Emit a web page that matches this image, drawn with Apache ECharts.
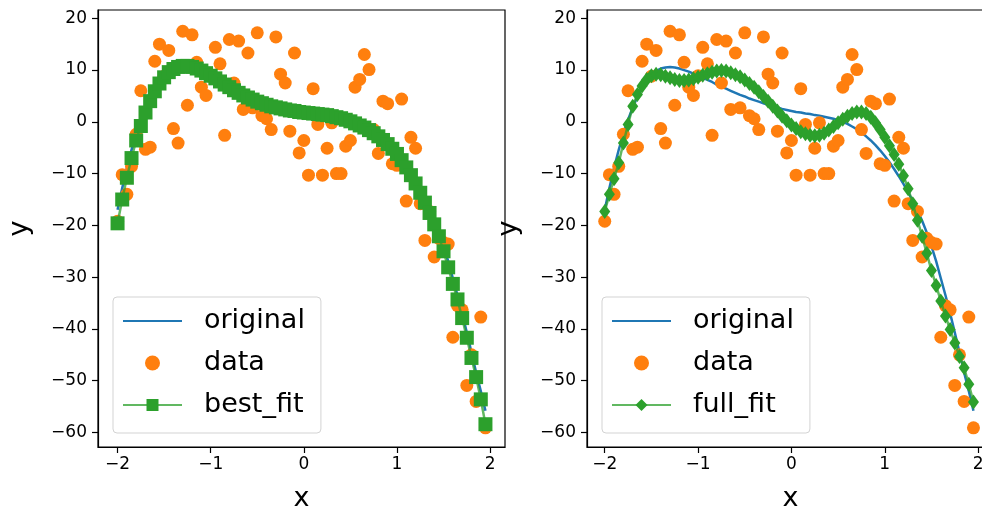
<!DOCTYPE html>
<html>
<head>
<meta charset="utf-8">
<script src="https://cdn.jsdelivr.net/npm/echarts@6/dist/echarts.min.js"></script>
<style>
html,body{margin:0;padding:0;background:#fff;}
#c{width:982px;height:513px;}
</style>
</head>
<body>
<div id="c"></div>
<script>
// x positions of the samples
const xValues = [-2.00,-1.95,-1.90,-1.85,-1.80,-1.75,-1.70,-1.65,-1.60,-1.55,-1.50,-1.45,-1.40,-1.35,-1.30,-1.25,-1.20,-1.15,-1.10,-1.05,
  -1.00,-0.95,-0.90,-0.85,-0.80,-0.75,-0.70,-0.65,-0.60,-0.55,-0.50,-0.45,-0.40,-0.35,-0.30,-0.25,-0.20,-0.15,-0.10,-0.05,
  0.00,0.05,0.10,0.15,0.20,0.25,0.30,0.35,0.40,0.45,0.50,0.55,0.60,0.65,0.70,0.75,0.80,0.85,0.90,0.95,
  1.00,1.05,1.10,1.15,1.20,1.25,1.30,1.35,1.40,1.45,1.50,1.55,1.60,1.65,1.70,1.75,1.80,1.85,1.90,1.95];

// noisy observations
const dataY = [-19.2,-10.2,-14.0,-8.6,-2.4,6.0,-5.3,-4.9,11.7,15.0,8.8,13.8,-1.3,-4.1,17.5,3.2,16.8,11.5,6.7,5.1,
  8.9,14.4,11.2,-2.6,15.9,7.5,15.6,2.4,13.3,2.7,17.2,1.2,0.6,-1.5,16.4,9.2,7.5,-1.8,13.3,-6.0,
  -3.6,-10.3,6.4,-0.5,-10.3,-5.1,-0.2,-10.0,-10.0,-4.7,-3.6,6.7,8.2,13.0,10.1,-1.5,-6.1,4.0,3.5,-8.1,
  -8.4,4.4,-15.3,-3.0,-5.1,-15.8,-22.9,-17.3,-26.1,-22.5,-23.3,-23.6,-41.6,-35.5,-36.3,-50.9,-45.0,-54.0,-37.7,-59.1];

// underlying curve
const originalY = [-17.0,-12.8,-8.9,-5.4,-2.3,0.4,2.8,4.8,6.5,7.9,9.0,9.8,10.3,10.5,10.6,10.5,10.3,10.0,9.7,9.3,
  8.9,8.5,8.1,7.7,7.2,6.8,6.4,6.0,5.6,5.2,4.9,4.5,4.2,3.9,3.6,3.3,3.0,2.8,2.5,2.3,
  2.1,1.9,1.8,1.6,1.5,1.3,1.2,1.0,0.8,0.6,0.3,0.0,-0.4,-0.9,-1.4,-2.1,-2.8,-3.6,-4.5,-5.5,
  -6.6,-7.8,-9.1,-10.5,-12.0,-13.6,-15.3,-17.1,-19.1,-21.4,-24.0,-26.9,-30.2,-33.5,-37.0,-40.7,-44.5,-48.4,-52.0,-55.8];

// best fit (left panel)
const bestFitY = [-19.6,-15.0,-10.8,-7.0,-3.6,-0.8,1.8,4.0,5.9,7.4,8.6,9.6,10.2,10.6,10.8,10.8,10.6,10.3,9.9,9.4,
  8.9,8.4,7.8,7.2,6.7,6.1,5.6,5.1,4.7,4.3,3.9,3.6,3.3,3.0,2.8,2.6,2.4,2.2,2.1,1.9,
  1.8,1.7,1.6,1.5,1.4,1.3,1.1,0.9,0.7,0.4,0.1,-0.3,-0.7,-1.1,-1.6,-2.2,-2.8,-3.5,-4.3,-5.2,
  -6.2,-7.4,-8.8,-10.3,-11.9,-13.7,-15.6,-17.6,-19.8,-22.1,-25.0,-28.1,-31.3,-34.3,-37.9,-41.7,-45.6,-49.3,-53.6,-58.4];

// full fit (right panel)
const fullFitY = [-17.3,-14.0,-11.0,-7.9,-4.1,-0.5,3.0,5.3,6.9,8.2,8.9,9.2,9.1,8.8,8.5,8.2,8.0,8.0,8.1,8.3,
  8.6,9.0,9.3,9.6,9.8,9.9,9.8,9.5,9.1,8.7,8.1,7.4,6.7,5.8,4.9,4.0,3.0,2.1,1.1,0.2,
  -0.6,-1.3,-1.9,-2.3,-2.6,-2.7,-2.6,-2.2,-1.6,-0.9,-0.2,0.5,1.1,1.6,1.9,1.9,1.6,0.9,-0.2,-1.5,
  -3.0,-4.6,-6.3,-8.2,-10.4,-12.9,-15.8,-19.0,-22.1,-25.4,-28.7,-31.6,-34.6,-37.5,-40.1,-42.7,-45.3,-47.5,-50.7,-54.1];

const xTicks = [-2,-1,0,1,2];
const yTicks = [-60,-50,-40,-30,-20,-10,0,10,20];

const BLUE = '#1f77b4', ORANGE = '#ff7f0e', GREEN = '#2ca02c';
const FONT = 'DejaVu Sans';
const pairs = arr => xValues.map((x, i) => [x, arr[i]]);
const fmt = v => String(v).replace('-', '\u2212');

function xAxis(gi, min, max) {
  return {
    type: 'value', gridIndex: gi, min: min, max: max,
    name: 'x', nameLocation: 'middle', nameGap: 38,
    nameTextStyle: {fontSize: 27, fontFamily: FONT, color: '#000'},
    axisLine: {show: true, onZero: false, lineStyle: {color: '#000', width: 1.2}},
    axisTick: {show: true, inside: false, length: 6, customValues: xTicks, lineStyle: {color: '#000', width: 1.2}},
    axisLabel: {customValues: xTicks, formatter: fmt, fontSize: 17, fontFamily: FONT, color: '#000', margin: 9},
    splitLine: {show: false}
  };
}
function yAxis(gi) {
  return {
    type: 'value', gridIndex: gi, min: -62.8, max: 21.6,
    name: 'y', nameLocation: 'middle', nameGap: 65, nameRotate: 90,
    nameTextStyle: {fontSize: 27, fontFamily: FONT, color: '#000'},
    axisLine: {show: true, onZero: false, lineStyle: {color: '#000', width: 1.2}},
    axisTick: {show: true, inside: false, length: 6, customValues: yTicks, lineStyle: {color: '#000', width: 1.2}},
    axisLabel: {customValues: yTicks, formatter: fmt, fontSize: 17, fontFamily: FONT, color: '#000', margin: 11},
    splitLine: {show: false}
  };
}
function legend(left, fitName) {
  return {
    orient: 'vertical', left: left, top: 297,
    data: [{name: 'original', itemStyle: {opacity: 0}}, 'data', fitName],
    itemWidth: 59, itemHeight: 15, itemGap: 10,
    padding: [8, 16, 12, 9],
    backgroundColor: 'rgba(255,255,255,0.8)',
    borderColor: '#d3d3d3', borderWidth: 1, borderRadius: 4,
    selectedMode: false,
    textStyle: {fontSize: 27, fontFamily: FONT, color: '#000', lineHeight: 32, padding: [0, 0, 0, 17]}
  };
}

const option = {
  animation: false,
  backgroundColor: '#fff',
  grid: [
    {left: 98, top: 10, width: 407, height: 437, outerBoundsMode: 'none', containLabel: false,
     show: true, borderColor: '#000', borderWidth: 1.2, backgroundColor: 'transparent'},
    {left: 587, top: 10, width: 407, height: 437, outerBoundsMode: 'none', containLabel: false,
     show: true, borderColor: '#000', borderWidth: 1.2, backgroundColor: 'transparent'}
  ],
  xAxis: [xAxis(0, -2.21, 2.16), xAxis(1, -2.19, 2.17)],
  yAxis: [yAxis(0), yAxis(1)],
  legend: [legend(113, 'best_fit'), legend(602, 'full_fit')],
  series: [
    {name: 'original', type: 'line', xAxisIndex: 0, yAxisIndex: 0, data: pairs(originalY), symbol: 'none',
     lineStyle: {color: BLUE, width: 2.5}, itemStyle: {color: BLUE}, z: 2},
    {name: 'data', type: 'scatter', xAxisIndex: 0, yAxisIndex: 0, data: pairs(dataY), symbol: 'circle', symbolSize: 13,
     itemStyle: {color: ORANGE, opacity: 1}, z: 3},
    {name: 'best_fit', type: 'line', xAxisIndex: 0, yAxisIndex: 0, data: pairs(bestFitY), symbol: 'rect', symbolSize: 14,
     showSymbol: true, lineStyle: {color: GREEN, width: 2.5, opacity: 0.75}, itemStyle: {color: GREEN}, z: 4},
    {name: 'original', type: 'line', xAxisIndex: 1, yAxisIndex: 1, data: pairs(originalY), symbol: 'none',
     lineStyle: {color: BLUE, width: 2.5}, itemStyle: {color: BLUE}, z: 2},
    {name: 'data', type: 'scatter', xAxisIndex: 1, yAxisIndex: 1, data: pairs(dataY), symbol: 'circle', symbolSize: 13,
     itemStyle: {color: ORANGE, opacity: 1}, z: 3},
    {name: 'full_fit', type: 'line', xAxisIndex: 1, yAxisIndex: 1, data: pairs(fullFitY), symbol: 'diamond', symbolSize: [11, 15],
     showSymbol: true, lineStyle: {color: GREEN, width: 2.5, opacity: 0.75}, itemStyle: {color: GREEN}, z: 4}
  ]
};

const chart = echarts.init(document.getElementById('c'), null, {renderer: 'canvas'});
chart.setOption(option);
</script>
</body>
</html>
